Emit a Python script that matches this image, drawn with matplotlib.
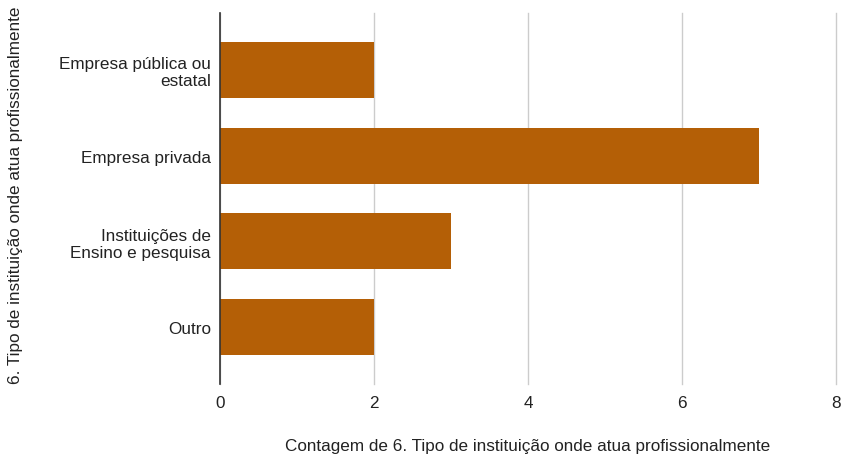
import numpy as np
import matplotlib
matplotlib.use('Agg')
import matplotlib.pyplot as plt

# data
categories = ["Empresa pública ou\nestatal", "Empresa privada",
              "Instituições de\nEnsino e pesquisa", "Outro"]
counts = [2, 7, 3, 2]
x_ticks = [0, 2, 4, 6, 8]

plt.rcParams['font.family'] = ['Liberation Sans', 'DejaVu Sans']
fs = 12.3

fig = plt.figure(figsize=(8.44, 4.56), dpi=100)
ax = fig.add_axes([220 / 844, 1 - 385 / 456, 616 / 844, 371 / 456])

ypos = np.arange(len(categories))
ax.barh(ypos, counts, height=0.655, color="#b45f06", zorder=3)

ax.set_xlim(0, 8)
ax.set_ylim(3.665, -0.665)
ax.set_xticks(x_ticks)
ax.set_xticklabels([str(t) for t in x_ticks], fontsize=fs, color="#222222")
ax.set_yticks(ypos)
ax.set_yticklabels(categories, fontsize=fs, color="#222222", ha="right",
                   linespacing=1.15)
ax.tick_params(axis="both", length=0)
ax.tick_params(axis="x", pad=8)
ax.tick_params(axis="y", pad=6.5)

ax.grid(axis="x", color="#cccccc", linewidth=1, zorder=0)
for line in ax.get_xgridlines():
    line.set_clip_on(False)
for s in ["top", "right", "bottom"]:
    ax.spines[s].set_visible(False)
ax.spines["left"].set_color("#333333")
ax.spines["left"].set_linewidth(1.2)
ax.spines["left"].set_zorder(4)

fig.text(528 / 844, 1 - 447 / 456, "Contagem de 6. Tipo de instituição onde atua profissionalmente",
         ha="center", va="center", fontsize=fs, color="#222222")
fig.text(16 / 844, 1 - 195 / 456, "6. Tipo de instituição onde atua profissionalmente",
         rotation=90, ha="center", va="center", fontsize=fs, color="#222222")

fig.savefig("out.png", dpi=100)
